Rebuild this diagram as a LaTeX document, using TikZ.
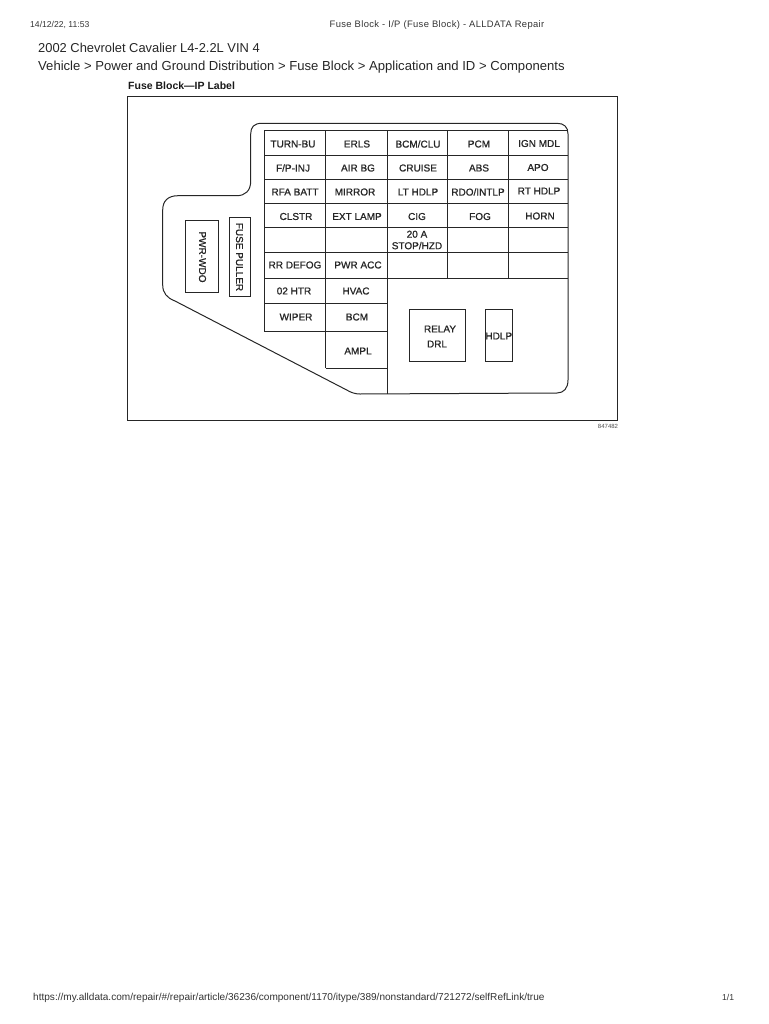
\documentclass[tikz,border=0pt]{standalone}
\usepackage{fontspec}
\setmainfont{Liberation Sans}
\newfontfamily\labelfont[FakeBold=1]{Liberation Sans}
\newfontfamily\spacedfont[LetterSpace=4]{Liberation Sans}
\newcommand{\fs}[1]{\fontsize{#1}{#1}\selectfont}
\tikzset{
  x=1pt,y=-1pt,
  wire/.style={draw=black!85,line width=1pt},
  fuselabel/.style={inner sep=0pt,text=black!85,align=center,font=\labelfont\fs{10}},
  headtext/.style={inner sep=0pt,anchor=west,text=black!80,font=\fs{8.6}},
  titletext/.style={inner sep=0pt,anchor=west,text=black!85,font=\fs{13.1}},
}
\begin{document}
\begin{tikzpicture}
\useasboundingbox (0,0) rectangle (768,1024);
% page header and footer
\node[headtext] (date) at (30,25) {14/12/22, 11:53};
\node[headtext,anchor=center,font=\spacedfont\fs{9.4}] (pagetitle) at (437,25) {Fuse Block - I/P (Fuse Block) - ALLDATA Repair};
\node[titletext,font=\fs{12.9}] (vehicle) at (38,48) {2002 Chevrolet Cavalier L4-2.2L VIN 4};
\node[titletext] (path) at (38,67) {Vehicle > Power and Ground Distribution > Fuse Block > Application and ID > Components};
\node[inner sep=0pt,anchor=west,text=black!90,font=\fs{10.5}\bfseries] (figtitle) at (128,85.5) {Fuse Block—IP Label};
\node[headtext,font=\fs{10.06}] (url) at (33,997.5) {https://my.alldata.com/repair/\#/repair/article/36236/component/1170/itype/389/nonstandard/721272/selfRefLink/true};
\node[headtext] (pagenum) at (722,997.5) {1/1};
% outer frame
\draw[wire] (127.7,96.7) rectangle (617.7,420.7);
\node[inner sep=0pt,text=black!70,font=\fs{6}] (code) at (608,426) {847482};
% block outline
\draw[wire] (262,123.3) .. controls (254,123.3) and (250.7,127) .. (250.7,134)
  -- (250.7,181) .. controls (250.7,191) and (245,195.7) .. (236.7,195.7)
  -- (178,195.7) .. controls (168,195.7) and (162.7,201) .. (162.7,210)
  -- (162.7,285) .. controls (162.7,293) and (167,298) .. (175,301)
  -- (346.7,390) .. controls (351,392.5) and (355,394) .. (360,394)
  -- (557,393) .. controls (564,393) and (568,388) .. (568,380)
  -- (568,134) .. controls (568,127) and (564,123.3) .. (557,123.3)
  -- cycle;
% fuse grid, columns 264.3 325.7 387 447 508.7 567.7
\draw[wire] (264.3,130.7) -- (567.7,130.7)
  (264.3,155.3) -- (567.7,155.3)
  (264.3,179.3) -- (567.7,179.3)
  (264.3,204) -- (567.7,204)
  (264.3,227.7) -- (567.7,227.7)
  (264.3,252) -- (567.7,252)
  (264.3,278.3) -- (567.7,278.3)
  (264.3,303.3) -- (387,303.3)
  (264.3,331) -- (387,331)
  (325.7,368.3) -- (387,368.3)
  (264.3,130.7) -- (264.3,331)
  (325.7,130.7) -- (325.7,368.3)
  (387,130.7) -- (387,393.5)
  (447,130.7) -- (447,278.3)
  (508.7,130.7) -- (508.7,278.3);
% labels: column 1
\node[fuselabel] (a1) at (293,144) {TURN-BU};
\node[fuselabel] (a2) at (293,168) {F/P-INJ};
\node[fuselabel] (a3) at (295,192) {RFA BATT};
\node[fuselabel] (a4) at (296,216.5) {CLSTR};
\node[fuselabel] (a6) at (295,265) {RR DEFOG};
\node[fuselabel] (a7) at (294,291) {02 HTR};
\node[fuselabel] (a8) at (296,317) {WIPER};
% column 2
\node[fuselabel] (b1) at (357,144) {ERLS};
\node[fuselabel] (b2) at (358,168) {AIR BG};
\node[fuselabel] (b3) at (355,192) {MIRROR};
\node[fuselabel] (b4) at (357,216.5) {EXT LAMP};
\node[fuselabel] (b6) at (358,265) {PWR ACC};
\node[fuselabel] (b7) at (356,291) {HVAC};
\node[fuselabel] (b8) at (357,317) {BCM};
\node[fuselabel] (b9) at (358,351) {AMPL};
% column 3
\node[fuselabel] (c1) at (418,144) {BCM/CLU};
\node[fuselabel] (c2) at (418,168) {CRUISE};
\node[fuselabel] (c3) at (418,192) {LT HDLP};
\node[fuselabel] (c4) at (417,216.5) {CIG};
\node[fuselabel] (c5) at (417,240) {20 A\\[1.5pt]STOP/HZD};
% column 4
\node[fuselabel] (d1) at (479,144) {PCM};
\node[fuselabel] (d2) at (479,168) {ABS};
\node[fuselabel] (d3) at (478,192) {RDO/INTLP};
\node[fuselabel] (d4) at (480,216.5) {FOG};
% column 5
\node[fuselabel] (e1) at (539,143.5) {IGN MDL};
\node[fuselabel] (e2) at (538,167.5) {APO};
\node[fuselabel] (e3) at (539,191) {RT HDLP};
\node[fuselabel] (e4) at (540,216) {HORN};
% side boxes
\node[wire,minimum width=32.7pt,minimum height=72.3pt,inner sep=0pt] (pwr) at (202.3,256.8) {};
\node[fuselabel,rotate=-90] (pwrlabel) at (202.5,257) {PWR-WDO};
\node[wire,minimum width=21pt,minimum height=79.4pt,inner sep=0pt] (puller) at (239.5,257) {};
\node[fuselabel,rotate=-90] (pullerlabel) at (239.5,257) {FUSE PULLER};
% relays
\node[wire,minimum width=55.7pt,minimum height=51.3pt,inner sep=0pt] (relay) at (437.8,335.6) {};
\node[fuselabel] (relaylabel) at (440,329) {RELAY};
\node[fuselabel] (drllabel) at (437,344) {DRL};
\node[wire,minimum width=27pt,minimum height=51.3pt,inner sep=0pt] (hdlp) at (498.8,335.6) {};
\node[fuselabel] (hdlplabel) at (498.8,336) {HDLP};
\end{tikzpicture}
\end{document}
